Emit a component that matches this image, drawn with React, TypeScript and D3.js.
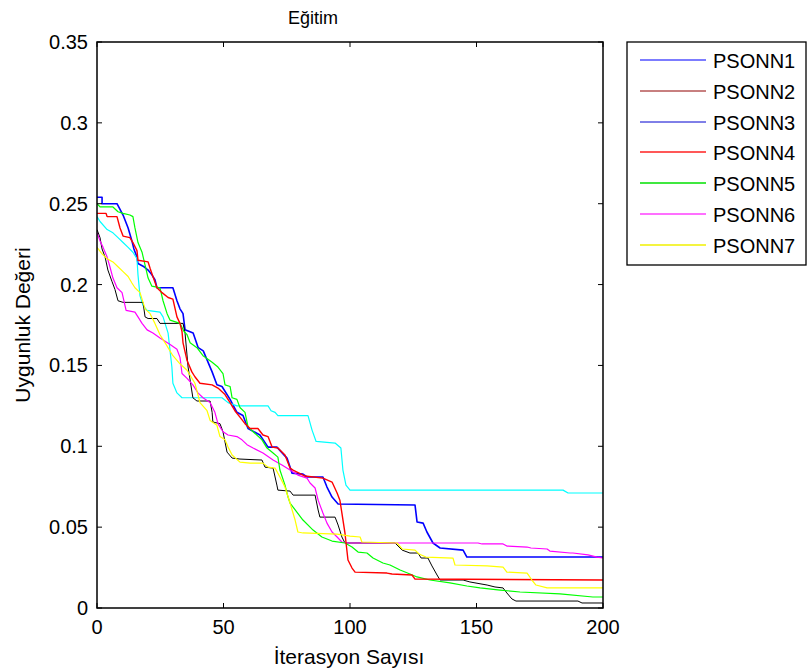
import React from "react";
import * as d3 from "d3";

const seriesNames = ["PSONN1", "PSONN2", "PSONN3", "PSONN4", "PSONN5", "PSONN6", "PSONN7"];

// [iteration, fitness] breakpoints
const blueCurve: [number, number][] = [
  [0, 0.254], [2, 0.254], [2, 0.25], [7.9, 0.25], [10.3, 0.243], [12.3, 0.235], [13.8, 0.227], [14.6, 0.222],
  [15.8, 0.217], [16.2, 0.213], [18.6, 0.211], [20.2, 0.209], [21.7, 0.206], [22.9, 0.203], [23.7, 0.198],
  [30, 0.198], [31.6, 0.19], [32.8, 0.185], [34, 0.182], [34.8, 0.172], [38, 0.17], [40, 0.161], [42, 0.159],
  [45.5, 0.146], [47.4, 0.138], [49.4, 0.137], [52.6, 0.129], [55.3, 0.121], [57.7, 0.119], [59.7, 0.111],
  [64.4, 0.107], [67.6, 0.0995], [71.1, 0.0995], [75.1, 0.0927], [77.1, 0.0834], [81.4, 0.0828], [83, 0.081],
  [89.3, 0.081], [90.9, 0.0748], [92.9, 0.0686], [95.3, 0.0643], [125.7, 0.0637], [126.5, 0.0532],
  [128.9, 0.0525], [130.4, 0.047], [132.8, 0.0402], [135.6, 0.0371], [144.7, 0.0358], [146.2, 0.0315],
  [200, 0.0315],
];

const blackCurve: [number, number][] = [
  [0, 0.234], [1.2, 0.229], [2, 0.222], [3.2, 0.217], [4.3, 0.209], [5.9, 0.202], [7.1, 0.197], [8.3, 0.19],
  [10.3, 0.189], [18.2, 0.189], [19, 0.18], [20.2, 0.179], [23.7, 0.179], [24.9, 0.176], [34, 0.176],
  [34.8, 0.17], [36, 0.149], [37.9, 0.13], [39.5, 0.128], [44.7, 0.128], [45.5, 0.121], [45.8, 0.115],
  [48.6, 0.114], [49.8, 0.109], [51.4, 0.0964], [53.4, 0.0927], [56.5, 0.0921], [65.2, 0.0915], [66.4, 0.0871],
  [69.6, 0.0865], [71.1, 0.076], [71.5, 0.0729], [76.3, 0.0723], [77.5, 0.0698], [86.2, 0.0698], [87.4, 0.0606],
  [88.1, 0.0562], [94.1, 0.0562], [95.3, 0.0513], [96.8, 0.0439], [98, 0.0402], [117.8, 0.0402],
  [120.6, 0.0358], [123.7, 0.034], [126.9, 0.034], [128.1, 0.0309], [130.8, 0.0309], [132.4, 0.026],
  [134.4, 0.0204], [135.6, 0.0173], [144.7, 0.0173], [147.4, 0.0161], [154.2, 0.0142], [157.3, 0.013],
  [160.5, 0.0124], [162, 0.0093], [164, 0.0056], [165.6, 0.0043], [190.1, 0.0043], [191.7, 0.0031],
  [200, 0.0031],
];

const redCurve: [number, number][] = [
  [0, 0.244], [3.6, 0.244], [4, 0.242], [7.9, 0.242], [9.1, 0.235], [10.3, 0.23], [13, 0.229], [14.2, 0.226],
  [15.8, 0.221], [16.2, 0.215], [20.2, 0.214], [21, 0.21], [22.1, 0.205], [23.7, 0.198], [25.7, 0.195],
  [28.1, 0.192], [30, 0.191], [31.6, 0.18], [32.8, 0.176], [33.6, 0.171], [34, 0.164], [35.6, 0.153],
  [37.5, 0.146], [38.7, 0.143], [40.7, 0.139], [45.5, 0.138], [47.8, 0.136], [50.6, 0.132], [52.6, 0.127],
  [54.5, 0.122], [56.5, 0.118], [58.5, 0.114], [60.5, 0.111], [63.6, 0.111], [65.6, 0.107], [67.6, 0.106],
  [69.2, 0.0995], [71.5, 0.0989], [74.3, 0.0946], [76.3, 0.0865], [77.5, 0.0853], [82.2, 0.0816],
  [89.3, 0.0803], [92.9, 0.0779], [94.9, 0.0711], [96, 0.0667], [96.8, 0.0587], [98, 0.0464], [99.2, 0.0297],
  [100.8, 0.0247], [102, 0.0222], [114.6, 0.0216], [116.6, 0.021], [124.5, 0.0204], [125.7, 0.0179],
  [200, 0.0173],
];

const greenCurve: [number, number][] = [
  [0, 0.25], [1.2, 0.248], [6.3, 0.248], [8.3, 0.245], [10.3, 0.244], [13, 0.243], [14.2, 0.242], [15, 0.235],
  [16.2, 0.226], [17.8, 0.22], [19, 0.212], [20.2, 0.204], [21.7, 0.199], [24.9, 0.198], [26.1, 0.19],
  [27.7, 0.182], [28.9, 0.178], [32.8, 0.176], [34.4, 0.171], [35.6, 0.169], [36.8, 0.164], [39.5, 0.161],
  [41.9, 0.156], [45.5, 0.152], [47.8, 0.149], [49.8, 0.145], [50.6, 0.138], [52.6, 0.137], [53.4, 0.13],
  [55.3, 0.129], [56.5, 0.124], [58.5, 0.121], [59.7, 0.112], [61.7, 0.109], [65.2, 0.104], [67.2, 0.0989],
  [69.6, 0.0958], [71.5, 0.0933], [72.3, 0.0853], [74.3, 0.076], [75.5, 0.0686], [76.3, 0.0649], [79, 0.0593],
  [81.4, 0.0544], [85.4, 0.0482], [88.9, 0.0439], [92.9, 0.0414], [98, 0.0402], [100.8, 0.0377],
  [103.2, 0.0346], [106.7, 0.034], [109.1, 0.0309], [113, 0.0278], [115.8, 0.0266], [119.8, 0.0235],
  [123.7, 0.021], [126.5, 0.0192], [131.6, 0.0173], [139.5, 0.0155], [146.2, 0.0136], [151.4, 0.0124],
  [159.3, 0.0111], [167.2, 0.0099], [183, 0.0087], [196, 0.0068], [200, 0.0068],
];

const magentaCurve: [number, number][] = [
  [0, 0.232], [1.2, 0.227], [2.4, 0.223], [4, 0.217], [5.1, 0.211], [6.3, 0.204], [7.9, 0.198], [9.9, 0.195],
  [11.5, 0.184], [15, 0.183], [16.2, 0.18], [17.8, 0.176], [19.8, 0.172], [22.1, 0.17], [24.9, 0.167],
  [28.9, 0.163], [31.6, 0.16], [32.8, 0.155], [33.6, 0.145], [35.6, 0.142], [37.9, 0.138], [39.9, 0.133],
  [41.9, 0.13], [44.7, 0.127], [46.6, 0.121], [47.8, 0.114], [49.8, 0.109], [51.8, 0.107], [55.3, 0.106],
  [57.3, 0.104], [59.3, 0.101], [61.7, 0.0989], [65.6, 0.0958], [69.6, 0.0915], [73.1, 0.0884], [76.3, 0.0853],
  [79.4, 0.0822], [83, 0.0803], [84.2, 0.0773], [86.2, 0.0742], [87.4, 0.0667], [89.3, 0.0587], [90.9, 0.0525],
  [92.9, 0.047], [94.9, 0.0439], [96.8, 0.0408], [99.2, 0.0402], [150.6, 0.0402], [152.2, 0.0396],
  [160.5, 0.0396], [162, 0.0383], [170, 0.0377], [171.5, 0.0371], [177.9, 0.0365], [179, 0.0352], [187, 0.034],
  [188.1, 0.034], [194.1, 0.0328], [197.6, 0.0315], [200, 0.0309],
];

const yellowCurve: [number, number][] = [
  [0, 0.223], [2, 0.219], [4, 0.216], [6.3, 0.214], [8.3, 0.211], [10.3, 0.208], [12.3, 0.205], [13.8, 0.201],
  [15, 0.198], [17, 0.195], [18.2, 0.189], [19, 0.185], [21, 0.182], [22.9, 0.176], [24.9, 0.169], [27.3, 0.163],
  [30, 0.156], [32.8, 0.151], [35.6, 0.147], [38.7, 0.139], [40.7, 0.127], [43.5, 0.122], [44.7, 0.116],
  [47.4, 0.113], [48.6, 0.106], [50.6, 0.104], [51.8, 0.0995], [53.4, 0.0946], [56.5, 0.0902], [60.5, 0.0896],
  [65.6, 0.0896], [67.6, 0.0871], [70.4, 0.0865], [72.3, 0.081], [74.3, 0.0748], [76.3, 0.0649], [78.3, 0.0544],
  [79.4, 0.047], [81.4, 0.0464], [94.9, 0.0457], [100, 0.0445], [104, 0.0439], [104.7, 0.0408], [118.6, 0.0402],
  [120.6, 0.0365], [125.7, 0.0358], [127.3, 0.0334], [130, 0.0315], [140.7, 0.0309], [141.5, 0.0266],
  [154.2, 0.026], [160.5, 0.0253], [162, 0.0222], [170, 0.0216], [171.9, 0.0173], [173.5, 0.0142],
  [177.9, 0.0124], [200, 0.0124],
];

const cyanCurve: [number, number][] = [
  [0, 0.242], [1.2, 0.239], [4, 0.234], [6.3, 0.232], [8.3, 0.229], [10.3, 0.226], [12.3, 0.223], [14.2, 0.22],
  [15.8, 0.216], [16.2, 0.206], [17, 0.193], [18.2, 0.187], [19.8, 0.184], [24.9, 0.183], [26.1, 0.18],
  [28.1, 0.17], [29.6, 0.149], [30, 0.139], [31.6, 0.133], [33.6, 0.13], [49.4, 0.13], [51.8, 0.127],
  [55.3, 0.125], [67.6, 0.125], [68.8, 0.122], [70.4, 0.121], [71.5, 0.119], [83.4, 0.119], [85, 0.11],
  [86.6, 0.103], [94.1, 0.102], [96.4, 0.0989], [97.2, 0.0853], [98.4, 0.076], [100, 0.0729], [184.2, 0.0729],
  [186.2, 0.0711], [200, 0.0711],
];

const xTicks = [0, 50, 100, 150, 200];
const yTicks = [0, 0.05, 0.1, 0.15, 0.2, 0.25, 0.3, 0.35];

const legendColors = ["#5050ff", "#900000", "#0000d0", "#ff2020", "#00e000", "#ff40ff", "#f0f000"];
const legendWidths = [1.6, 1, 1, 1.4, 1.4, 1.6, 1.4];

const FONT = "'Liberation Sans', Arial, Helvetica, sans-serif";

export default function App() {
  const left = 97, right = 603, top = 42, bottom = 608;
  const x = d3.scaleLinear().domain([0, 200]).range([left, right]);
  const y = d3.scaleLinear().domain([0, 0.35]).range([bottom, top]);
  const line = d3.line<[number, number]>().x((d) => x(d[0])).y((d) => y(d[1]));

  const curves: { data: [number, number][]; color: string; w: number }[] = [
    { data: blueCurve, color: "#0000ff", w: 1.6 },
    { data: cyanCurve, color: "#00ffff", w: 1.2 },
    { data: blackCurve, color: "#000000", w: 1 },
    { data: magentaCurve, color: "#ff00ff", w: 1.2 },
    { data: greenCurve, color: "#00ff00", w: 1.2 },
    { data: redCurve, color: "#ff0000", w: 1.4 },
    { data: yellowCurve, color: "#ffff00", w: 1.2 },
  ];

  const legX = 627, legY = 42, legW = 179, legH = 223;
  const rowY = (i: number) => Math.round(60 + i * 30.8);

  return (
    <svg
      width={807}
      height={672}
      style={{ position: "absolute", left: 0, top: 0, background: "#fff" }}
      fontFamily={FONT}
    >
      <rect x={0} y={0} width={807} height={672} fill="#fff" />
      <defs>
        <clipPath id="plotClip">
          <rect x={left} y={top} width={right - left} height={bottom - top} />
        </clipPath>
      </defs>
      <g clipPath="url(#plotClip)">
        {curves.map((c, i) => (
          <path key={i} d={line(c.data) || ""} fill="none" stroke={c.color} strokeWidth={c.w} strokeLinejoin="round" />
        ))}
      </g>
      {/* axes box */}
      <rect x={left} y={top} width={right - left} height={bottom - top} fill="none" stroke="#000" strokeWidth={1.5} />
      {xTicks.map((t) => (
        <g key={"x" + t}>
          <line x1={x(t)} x2={x(t)} y1={bottom} y2={bottom - 5} stroke="#000" />
          <line x1={x(t)} x2={x(t)} y1={top} y2={top + 5} stroke="#000" />
          <text x={x(t)} y={634} fontSize={20} textAnchor="middle" fill="#000">
            {t}
          </text>
        </g>
      ))}
      {yTicks.map((t) => (
        <g key={"y" + t}>
          <line x1={left} x2={left + 5} y1={y(t)} y2={y(t)} stroke="#000" />
          <line x1={right} x2={right - 5} y1={y(t)} y2={y(t)} stroke="#000" />
          <text x={88} y={y(t) + 7} fontSize={20} textAnchor="end" fill="#000">
            {t === 0 ? "0" : String(t)}
          </text>
        </g>
      ))}
      <text x={313} y={24} fontSize={18} textAnchor="middle" fill="#000">
        Eğitim
      </text>
      <text x={349} y={664} fontSize={21} textAnchor="middle" fill="#000">
        İterasyon Sayısı
      </text>
      <text
        transform={`translate(30, ${(top + bottom) / 2}) rotate(-90)`}
        fontSize={21}
        textAnchor="middle"
        fill="#000"
      >
        Uygunluk Değeri
      </text>
      {/* legend */}
      <rect x={legX} y={legY} width={legW} height={legH} fill="#fff" stroke="#000" strokeWidth={1.3} />
      {seriesNames.map((n, i) => (
        <g key={n}>
          <line x1={640} x2={706} y1={rowY(i)} y2={rowY(i)} stroke={legendColors[i]} strokeWidth={legendWidths[i]} />
          <text x={713} y={rowY(i) + 7.5} fontSize={20} fill="#000">
            {n}
          </text>
        </g>
      ))}
    </svg>
  );
}
